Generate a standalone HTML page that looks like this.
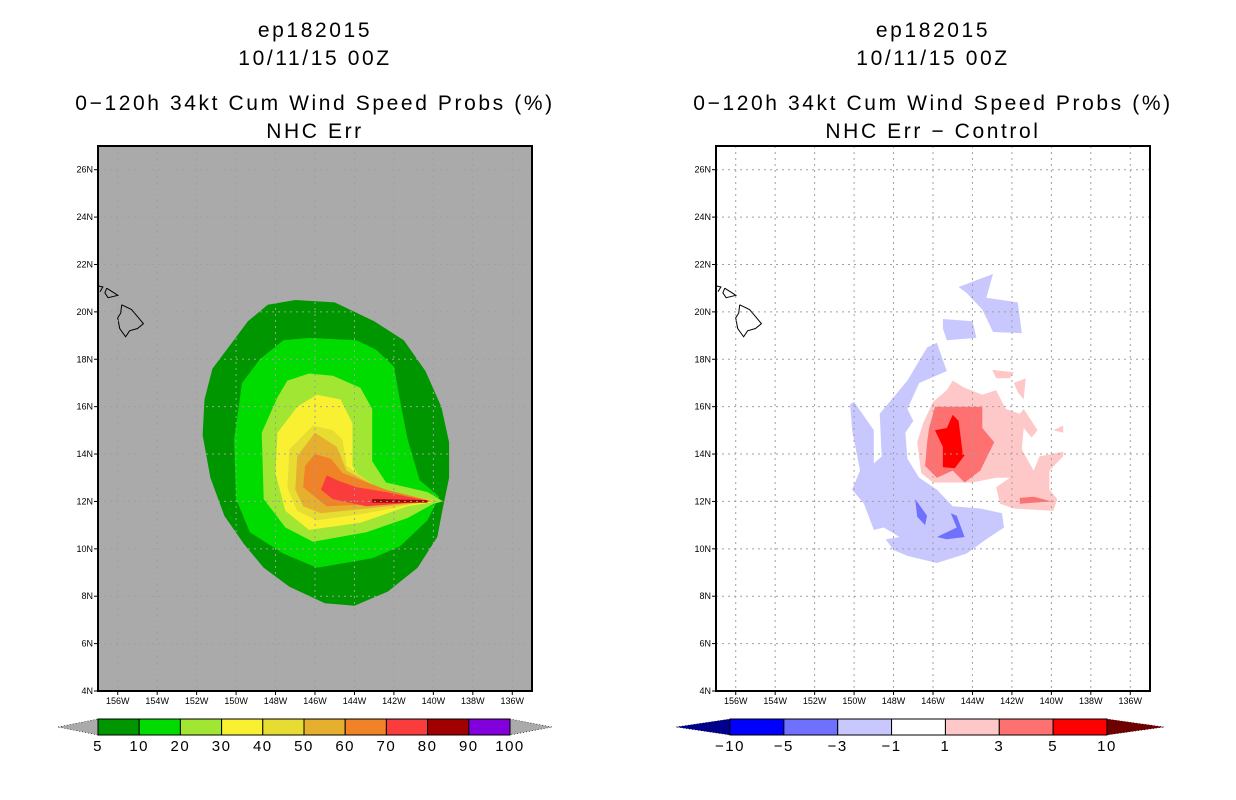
<!DOCTYPE html>
<html><head><meta charset="utf-8"><style>
body{margin:0;background:#fff;}
svg{display:block;font-family:"Liberation Sans",sans-serif;}
</style></head><body>
<svg id="chart" width="1236" height="800" viewBox="0 0 1236 800"></svg>
<script>
// ===== data =====
const latTicks=[26,24,22,20,18,16,14,12,10,8,6,4];
const lonTicks=[156,154,152,150,148,146,144,142,140,138,136];
const leftLevels=['5','10','20','30','40','50','60','70','80','90','100'];
const leftColors=['#009600','#00dc00','#a0e632','#faf032','#e6dc32','#e6af2d','#f08228','#fa3c3c','#a00000','#8200dc'];
const rightLevels=['−10','−5','−3','−1','1','3','5','10'];
const rightColors=['#0000ff','#7070ff','#c8c8ff','#ffffff','#ffc8c8','#ff7070','#ff0000'];
// contour polygons: [lonW, latN]
const probL5=[[151.6,16.3],[151.2,17.6],[150.3,18.6],[149.4,19.6],[148.4,20.3],[147.0,20.5],[145.0,20.4],[143.0,19.6],[141.5,18.8],[140.4,17.5],[139.6,16.0],[139.2,14.5],[139.2,13.0],[139.5,11.8],[139.8,10.5],[140.8,9.2],[142.3,8.2],[144.0,7.6],[145.5,7.7],[147.3,8.4],[148.6,9.2],[149.6,10.2],[150.6,11.4],[151.3,13.0],[151.7,14.8]];
const probL10=[[150.1,14.6],[149.7,17.0],[148.8,18.0],[147.6,18.8],[146.3,18.9],[143.9,18.8],[142.9,18.4],[142.0,17.7],[141.7,16.3],[141.3,14.6],[140.7,12.9],[139.7,12.2],[140.3,11.2],[141.7,10.1],[143.1,9.6],[145.9,9.2],[147.6,9.8],[149.3,10.7],[150.0,12.1]];
const probL20=[[148.7,14.9],[147.9,16.4],[147.4,17.1],[146.3,17.4],[145.1,17.3],[143.7,16.8],[143.1,15.9],[143.1,13.7],[142.4,12.8],[140.3,12.4],[139.5,12.0],[140.0,11.9],[141.3,11.3],[143.4,10.7],[146.1,10.3],[147.5,10.9],[148.6,12.1]];
const probL30=[[148.0,13.2],[147.9,14.9],[146.9,16.0],[145.9,16.5],[144.7,16.3],[144.1,15.3],[144.1,13.5],[143.4,12.6],[141.3,12.2],[139.8,12.0],[141.3,11.8],[143.7,11.1],[146.3,10.8],[147.5,11.6]];
const probL40=[[147.4,12.6],[147.3,14.2],[146.1,15.2],[145.1,15.0],[144.6,14.6],[144.4,13.5],[142.7,12.5],[140.0,12.05],[143.4,11.5],[145.9,11.2],[146.9,11.6]];
const probL50=[[147.0,12.5],[146.9,13.9],[146.0,14.9],[144.9,14.3],[144.4,13.3],[142.4,12.4],[140.0,12.0],[145.7,11.5],[146.6,11.8]];
const probL60=[[146.6,12.6],[146.5,13.5],[146.0,14.0],[145.2,13.8],[144.6,13.2],[142.4,12.5],[140.0,12.0],[145.4,11.8]];
const probL70=[[145.7,12.5],[145.4,13.1],[144.9,12.9],[143.9,12.6],[142.4,12.4],[140.2,12.0],[143.4,11.8],[145.1,12.1]];
const probL80=[[143.1,12.1],[140.3,12.05],[140.3,11.95],[143.1,11.95]];
const diffBlueArc=[[150.2,16.1],[150.0,16.2],[149.0,15.0],[149.0,13.6],[148.6,13.9],[148.7,15.7],[147.3,17.1],[146.3,18.5],[145.8,18.7],[145.3,17.5],[146.7,17.0],[147.3,15.9],[147.0,15.4],[147.4,14.9],[147.3,13.8],[146.7,13.0],[145.8,12.5],[145.0,11.8],[143.6,11.7],[142.5,11.5],[142.4,10.9],[143.3,10.4],[144.3,9.8],[145.8,9.4],[147.3,9.7],[148.0,9.95],[148.4,10.4],[147.7,10.5],[148.5,10.9],[149.0,10.8],[149.5,11.9],[150.1,12.5],[149.7,13.3],[150.1,15.0]];
const diffBlueTop1=[[144.7,21.05],[142.96,21.6],[143.3,20.6],[141.7,20.4],[141.5,19.1],[142.96,19.15],[143.5,20.1],[144.3,20.8]];
const diffBlueTop2=[[145.5,19.7],[144.0,19.6],[143.8,18.9],[145.3,18.8],[145.5,19.3]];
const diffDarkBlue1=[[146.9,12.1],[146.3,11.4],[146.4,11.0],[146.8,11.35]];
const diffDarkBlue2=[[145.1,11.5],[144.8,11.4],[144.4,10.5],[145.3,10.4],[145.8,10.5],[144.8,10.9]];
const diffPinkMain=[[145.0,17.1],[144.4,16.8],[143.5,16.5],[142.8,16.7],[142.5,16.2],[142.3,15.9],[141.6,15.7],[141.4,15.9],[140.7,15.0],[141.0,14.7],[141.4,15.1],[141.5,14.2],[140.9,13.3],[140.6,13.9],[139.4,14.1],[139.4,13.9],[140.1,13.3],[140.1,12.5],[139.7,12.1],[139.9,11.6],[141.9,11.7],[142.6,11.9],[142.8,12.6],[142.1,13.0],[142.8,13.0],[144.0,12.8],[144.6,12.8],[146.0,12.8],[146.6,13.2],[146.8,14.5],[146.5,15.3],[146.0,16.2],[145.3,16.7]];
const diffPinkSmall1=[[143.0,17.55],[141.9,17.45],[142.1,17.2],[142.8,17.2]];
const diffPinkSmall2=[[141.9,17.0],[141.3,17.2],[141.4,16.3],[141.7,16.6]];
const diffPinkSmall3=[[139.9,15.0],[139.4,15.2],[139.4,14.9]];
const diffSalmon=[[145.9,16.0],[143.5,16.0],[143.5,15.1],[142.9,14.5],[143.6,13.3],[144.4,12.8],[145.0,13.3],[145.8,13.0],[146.4,13.5],[146.3,14.5],[146.2,15.1]];
const diffSalmonSmall=[[141.6,12.15],[140.9,12.2],[140.0,12.0],[141.6,11.9]];
const diffRed=[[145.0,15.65],[144.7,15.4],[144.5,14.05],[144.4,13.95],[144.9,13.4],[145.5,13.45],[145.5,14.3],[145.9,15.0],[145.3,15.1]];
const bigIsland=[[155.8,20.3],[155.3,20.1],[155.0,19.8],[154.7,19.5],[155.0,19.3],[155.4,19.2],[155.6,18.95],[155.9,19.3],[156.0,19.75],[155.85,19.95],[155.8,20.3]];
const maui=[[156.56,21.0],[155.99,20.7],[156.49,20.6],[156.65,20.8],[156.56,21.0]];
const molokai=[[157.0,21.1],[156.75,21.05],[156.9,20.85]];

// ===== drawing =====
const NS='http://www.w3.org/2000/svg';
const svg=document.getElementById('chart');
function mk(tag,attrs,parent){const e=document.createElementNS(NS,tag);for(const k in attrs)e.setAttribute(k,attrs[k]);(parent||svg).appendChild(e);return e;}
const LON0=157,LON1=135,LAT0=4,LAT1=27,PW=434,PH=545,PT=146;
function xScale(px0){return lon=>px0+(LON0-lon)/(LON0-LON1)*PW;}
function yScale(lat){return PT+(LAT1-lat)/(LAT1-LAT0)*PH;}
function txt(x,y,s,size,anchor,name,parent,ls){const t=mk('text',{x:x,y:y,'font-size':size,'text-anchor':anchor||'middle',fill:'#000'},parent);if(ls)t.setAttribute('letter-spacing',ls);t.textContent=s;return t;}

function panel(px0,bg,title4,polys,name){
  const g=mk('g',{});
  
  
  const xs=xScale(px0), cx=px0+PW/2;
  txt(cx,37,'ep182015',21,'middle','title-storm-id',g,2.6);
  txt(cx,65,'10/11/15 00Z',21,'middle','title-date',g,2.6);
  txt(cx,110,'0−120h 34kt Cum Wind Speed Probs (%)',21,'middle','title-product',g,2.6);
  txt(cx,138,title4,21,'middle','title-subtitle',g,2.6);
  const bgR=mk('rect',{x:px0,y:PT,width:PW,height:PH,fill:bg},g);
  
  
  const cp='clip'+px0;
  const cl=mk('clipPath',{id:cp},g);mk('rect',{x:px0,y:PT,width:PW,height:PH},cl);
  const pg=mk('g',{'clip-path':'url(#'+cp+')'},g);
  polys.forEach(([pts,col,nm])=>{
    const p=mk('polygon',{points:pts.map(q=>xs(q[0]).toFixed(1)+','+yScale(q[1]).toFixed(1)).join(' '),fill:col},pg);
    
    
  });
  [bigIsland,maui,molokai].forEach(isl=>{
    const c=mk('polyline',{points:isl.map(q=>xs(q[0]).toFixed(1)+','+yScale(q[1]).toFixed(1)).join(' '),fill:'none',stroke:'#000','stroke-width':1},pg);
    
    
  });
  lonTicks.forEach(l=>{const x=xs(l);
    const gl=mk('line',{x1:x,y1:PT,x2:x,y2:PT+PH,stroke:'#a0a0a0','stroke-width':1,'stroke-dasharray':'2,4'},pg);
    
    
    mk('line',{x1:x,y1:PT+PH,x2:x,y2:PT+PH+4,stroke:'#000'},g);
    txt(x,704,l+'W',9,'middle','x-tick-label',g);
  });
  latTicks.forEach(l=>{const y=yScale(l);
    if(l>4){const gl=mk('line',{x1:px0,y1:y,x2:px0+PW,y2:y,stroke:'#a0a0a0','stroke-width':1,'stroke-dasharray':'2,4'},pg);
    
    }
    mk('line',{x1:px0-4,y1:y,x2:px0,y2:y,stroke:'#000'},g);
    txt(px0-5,y+3,l+'N',9,'end','y-tick-label',g);
  });
  const fr=mk('rect',{x:px0,y:PT,width:PW,height:PH,fill:'none',stroke:'#000','stroke-width':2},g);
  
  
}

panel(98,'#aaaaaa','NHC Err',[
  [probL5,leftColors[0],'contour-5'],[probL10,leftColors[1],'contour-10'],[probL20,leftColors[2],'contour-20'],
  [probL30,leftColors[3],'contour-30'],[probL40,leftColors[4],'contour-40'],[probL50,leftColors[5],'contour-50'],
  [probL60,leftColors[6],'contour-60'],[probL70,leftColors[7],'contour-70'],[probL80,leftColors[8],'contour-80']
],'left-panel-probs');

panel(716,'#ffffff','NHC Err − Control',[
  [diffBlueArc,rightColors[2],'diff-neg-arc'],[diffBlueTop1,rightColors[2],'diff-neg-top-1'],[diffBlueTop2,rightColors[2],'diff-neg-top-2'],
  [diffDarkBlue1,rightColors[1],'diff-neg3-1'],[diffDarkBlue2,rightColors[1],'diff-neg3-2'],
  [diffPinkMain,rightColors[4],'diff-pos-main'],[diffPinkSmall1,rightColors[4],'diff-pos-small-1'],[diffPinkSmall2,rightColors[4],'diff-pos-small-2'],[diffPinkSmall3,rightColors[4],'diff-pos-small-3'],
  [diffSalmon,rightColors[5],'diff-pos3-main'],[diffSalmonSmall,rightColors[5],'diff-pos3-small'],
  [diffRed,rightColors[6],'diff-pos5']
],'right-panel-diff');

function colorbar(x0,x1,tl,tr,colors,labels,lcol,rcol,name){
  const g=mk('g',{});
  
  
  const y0=719,y1=735,ym=727,n=colors.length,w=(x1-x0)/n;
  const a=mk('polygon',{points:`${tl},${ym} ${x0},${y0} ${x0},${y1}`,fill:lcol,stroke:'#000','stroke-width':0.6,'stroke-dasharray':'1,2'},g);
  
  
  const b=mk('polygon',{points:`${tr},${ym} ${x1},${y0} ${x1},${y1}`,fill:rcol,stroke:'#000','stroke-width':0.6,'stroke-dasharray':'1,2'},g);
  
  
  colors.forEach((c,i)=>{
    const r=mk('rect',{x:x0+i*w,y:y0,width:w,height:y1-y0,fill:c,stroke:'#000','stroke-width':1},g);
    
    
  });
  labels.forEach((s,i)=>txt(x0+i*w,751,s,15,'middle','colorbar-label',g,1.5));
}
colorbar(98,510,58,552,leftColors,leftLevels,'#aaaaaa','#aaaaaa','colorbar-probs');
colorbar(730,1107,676,1164,rightColors,rightLevels,'#00008b','#6e0000','colorbar-diff');
</script>
</body></html>
